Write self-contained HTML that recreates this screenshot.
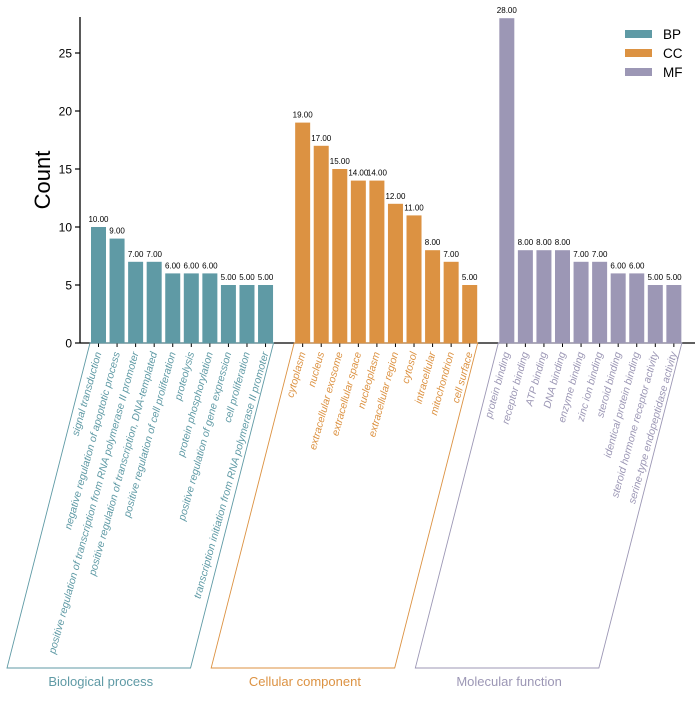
<!DOCTYPE html>
<html><head><meta charset="utf-8"><style>
body{margin:0;background:#fff;}
svg{display:block;font-family:"Liberation Sans",Arial,sans-serif;}
</style></head><body>
<svg id="chart" width="700" height="707"></svg>
<script>
const bpTerms=["signal transduction","negative regulation of apoptotic process","positive regulation of transcription from RNA polymerase II promoter","positive regulation of transcription, DNA-templated","positive regulation of cell proliferation","proteolysis","protein phosphorylation","positive regulation of gene expression","cell proliferation","transcription initiation from RNA polymerase II promoter"];
const bpValues=[10,9,7,7,6,6,6,5,5,5];
const ccTerms=["cytoplasm","nucleus","extracellular exosome","extracellular space","nucleoplasm","extracellular region","cytosol","intracellular","mitochondrion","cell surface"];
const ccValues=[19,17,15,14,14,12,11,8,7,5];
const mfTerms=["protein binding","receptor binding","ATP binding","DNA binding","enzyme binding","zinc ion binding","steroid binding","identical protein binding","steroid hormone receptor activity","serine-type endopeptidase activity"];
const mfValues=[28,8,8,8,7,7,6,6,5,5];
const yTicks=[0,5,10,15,20,25];
const groupNames=["Biological process","Cellular component","Molecular function"];
const legendLabels=["BP","CC","MF"];

const NS="http://www.w3.org/2000/svg";
const svg=document.getElementById('chart');
const colors=["#5f9aa5","#dc9242","#9c97b5"];
const y0=343, unit=11.6, x0=91, pitch=18.56, bw=15;
const yScale=v=>y0-v*unit;
const xSlot=i=>x0+i*pitch;
function mk(tag,attrs,parent){const e=document.createElementNS(NS,tag);for(const k in attrs)e.setAttribute(k,attrs[k]);(parent||svg).appendChild(e);return e;}

let ax=mk('line',{x1:80,y1:17,x2:80,y2:y0,stroke:'#000','stroke-width':1.3});


yTicks.forEach(t=>{
  const tl=mk('line',{x1:75,x2:80,y1:yScale(t),y2:yScale(t),stroke:'#000','stroke-width':1.2});
  
  
  const tx=mk('text',{x:72,y:yScale(t)+4.5,'text-anchor':'end','font-size':12});
  tx.textContent=t;
  
  
});
const yt=mk('text',{x:50,y:180,'text-anchor':'middle','font-size':22,transform:'rotate(-90 50 180)'});
yt.textContent='Count';


const xa=mk('line',{x1:80,y1:y0,x2:695,y2:y0,stroke:'#000','stroke-width':1.3});



const groups=[[bpTerms,bpValues],[ccTerms,ccValues],[mfTerms,mfValues]];
groups.forEach((g,gi)=>{
  const [terms,vals]=g;
  const start=gi*11;
  vals.forEach((v,j)=>{
    const x=xSlot(start+j);
    const r=mk('rect',{x:x,y:yScale(v),width:bw,height:v*unit,fill:colors[gi]});
    
    
    const vl=mk('text',{x:x+bw/2,y:yScale(v)-5,'text-anchor':'middle','font-size':8});
    vl.textContent=v.toFixed(2);
    
    
    const cx=x+bw/2;
    const tk=mk('line',{x1:cx,x2:cx,y1:y0,y2:y0+4,stroke:'#000','stroke-width':1});
    
    
    const lx=cx+3, ly=y0+10;
    const tl=mk('text',{x:lx,y:ly,'text-anchor':'end','font-size':10.4,'font-style':'italic',fill:colors[gi],transform:`rotate(-74.5 ${lx} ${ly})`});
    tl.textContent=terms[j];
    
    
  });
  const xl=xSlot(start)-1, xr=xSlot(start+9)+bw+0.5;
  const d=83;
  const p=mk('polygon',{points:`${xl},${y0} ${xl-d},668 ${xr-d},668 ${xr},${y0}`,fill:'none',stroke:colors[gi],'stroke-width':0.9});
  
  
  const gt=mk('text',{x:(xl+xr)/2-d+2,y:686,'text-anchor':'middle','font-size':13,fill:colors[gi]});
  gt.textContent=groupNames[gi];
  
  
});

legendLabels.forEach((l,i)=>{
  const y=30+i*19;
  const r=mk('rect',{x:625,y:y,width:27,height:8,fill:colors[i]});
  
  
  const t=mk('text',{x:663,y:y+9,'font-size':13.5});
  t.textContent=l;
  
  
});
</script>
</body></html>
